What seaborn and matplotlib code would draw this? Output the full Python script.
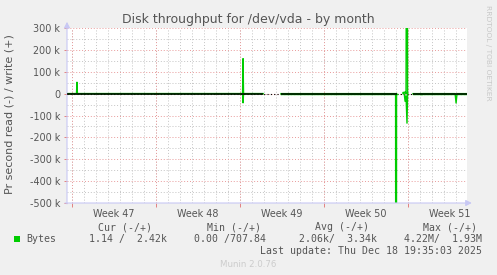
import numpy as np
import pandas as pd
import matplotlib
matplotlib.use("Agg")
import matplotlib.pyplot as plt
import seaborn as sns

# ---------------- data (time in days from left edge of the graph) ----------------
write_seg = [0, 0, 0, 0, 0, 0, 0, 0, 1, 1, 2, 2, 2, 2, 2, 3, 3]
write_t = [0.0, 0.79, 0.83, 0.87, 14.63, 14.67, 14.71, 16.33,
           17.83, 27.50,
           28.00, 28.17, 28.25, 28.33, 28.38,
           28.83, 33.33]
write_v = [0, 0, 52e3, 0, 0, 160e3, 0, 0,
           0, 0,
           5e3, 7e3, 0, 1.93e6, 0,
           0, 0]

read_seg = [0, 0, 0, 0, 0, 1, 1, 1, 1, 2, 2, 2, 2, 2, 2, 3, 3, 3, 3, 3, 3, 3, 3]
read_t = [0.0, 14.63, 14.67, 14.71, 16.33,
          17.83, 27.38, 27.42, 27.46,
          28.00, 28.10, 28.17, 28.25, 28.33, 28.38,
          28.83, 29.54, 29.58, 29.62, 32.34, 32.42, 32.50, 33.33]
read_v = [0, 0, 42e3, 0, 0,
          0, 0, 4.22e6, 0,
          0, 0, 35e3, 10e3, 135e3, 0,
          0, 0, 5e3, 0, 0, 43e3, 0, 0]

week_labels = ["Week 47", "Week 48", "Week 49", "Week 50", "Week 51"]
week_starts = [0.42, 7.42, 14.42, 21.42, 28.42]
x_max = 33.33
y_ticks = [-500e3, -400e3, -300e3, -200e3, -100e3, 0, 100e3, 200e3, 300e3]
y_labels = ["-500 k", "-400 k", "-300 k", "-200 k", "-100 k", "0", "100 k", "200 k", "300 k"]

legend_headers = ["Cur (-/+)", "Min (-/+)", "Avg (-/+)", "Max (-/+)"]
legend_values = ["1.14 /  2.42k", "0.00 /707.84", "2.06k/  3.34k", "4.22M/  1.93M"]

# ---------------- figure ----------------
W, H = 497, 275
fig = plt.figure(figsize=(W / 100, H / 100), dpi=100, facecolor="#f0f0f0")
ax = fig.add_axes([67 / W, 1 - 203 / H, 400 / W, 175 / H])
ax.set_facecolor("white")
ax.set_xlim(0, x_max)
ax.set_ylim(-500e3, 300e3)

grey = "#c4c4c4"
red = "#e89a9a"
dot = (0, (1, 2))
for d in np.arange(week_starts[0], x_max, 1.0):
    ax.axvline(d, color=grey, lw=0.7, ls=dot, zorder=0)
for d in week_starts:
    ax.axvline(d, color=red, lw=0.7, ls=dot, zorder=0.5)
for v in np.arange(-450e3, 300e3, 100e3):
    ax.axhline(v, color=grey, lw=0.7, ls=dot, zorder=0)
for v in y_ticks:
    ax.axhline(v, color=red, lw=0.7, ls=dot, zorder=0.5)

# zero line: dotted through gaps, solid where data exists
ax.axhline(0, color="black", lw=0.8, ls=dot, zorder=1)

df_w = pd.DataFrame({"t": write_t, "v": write_v, "seg": write_seg})
df_r = pd.DataFrame({"t": read_t, "v": [-x for x in read_v], "seg": read_seg})

green = "#00cc00"
sns.lineplot(data=df_w, x="t", y="v", units="seg", estimator=None, color=green,
             lw=1.0, ax=ax, zorder=3, sort=False)
sns.lineplot(data=df_r, x="t", y="v", units="seg", estimator=None, color=green,
             lw=1.0, ax=ax, zorder=3, sort=False)

for s in [0, 1, 3]:
    ts = df_w.loc[df_w.seg == s, "t"]
    ax.plot([ts.min(), ts.max()], [0, 0], color="black", lw=1.1, zorder=4,
            solid_capstyle="butt")

ax.set_xlabel("")
ax.set_ylabel("")
for sp in ax.spines.values():
    sp.set_visible(False)

ax.set_yticks(y_ticks)
ax.set_yticklabels(y_labels)
ax.set_xticks([w + 3.5 for w in week_starts])
ax.set_xticklabels(week_labels)
ax.set_xticks(week_starts, minor=True)
ax.tick_params(axis="x", which="major", length=0, pad=4, labelsize=6.9, labelcolor="#555555")
ax.tick_params(axis="x", which="minor", length=3, color="#e07070", width=0.6)
ax.tick_params(axis="y", which="major", length=2, color="#e07070", width=0.6,
               pad=3, labelsize=6.9, labelcolor="#555555")

# blue axis arrows
axcol = "#c8c8f4"
ax.annotate("", xy=(0, 1.035), xytext=(0, -0.005), xycoords="axes fraction",
            arrowprops=dict(arrowstyle="-|>,head_length=0.35,head_width=0.18",
                            color=axcol, lw=0.8, shrinkA=0, shrinkB=0), annotation_clip=False)
ax.annotate("", xy=(1.012, 0), xytext=(-0.005, 0), xycoords="axes fraction",
            arrowprops=dict(arrowstyle="-|>,head_length=0.35,head_width=0.18",
                            color=axcol, lw=0.8, shrinkA=0, shrinkB=0), annotation_clip=False)

def px(x, y):
    return x / W, 1 - y / H

fig.text(*px(248, 19.5), "Disk throughput for /dev/vda - by month", ha="center", va="center",
         fontsize=9, color="#555555")
fig.text(*px(10, 114), "Pr second read (-) / write (+)", rotation=90, ha="center", va="center",
         fontsize=8.0, color="#555555")
fig.text(*px(488, 5), "RRDTOOL / TOBI OETIKER", rotation=270, ha="center", va="top",
         fontsize=5.4, color="#c8c8c8")

mono = "DejaVu Sans Mono"
fs = 7.15
hdr_x = [98.3, 206.7, 314.7, 422.7]
val_x = [89.3, 194.3, 299.3, 404.3]
for x, t in zip(hdr_x, legend_headers):
    fig.text(*px(x, 227), t, family=mono, fontsize=fs, color="#555555", ha="left", va="center")
for x, t in zip(val_x, legend_values):
    fig.text(*px(x, 239), t, family=mono, fontsize=fs, color="#555555", ha="left", va="center")
fig.text(*px(26.3, 239), "Bytes", family=mono, fontsize=fs, color="#555555", ha="left", va="center")
fig.patches.append(plt.Rectangle(px(14, 242), 6 / W, 6 / H, transform=fig.transFigure,
                                 facecolor=green, edgecolor="none"))
fig.text(*px(482.5, 251), "Last update: Thu Dec 18 19:35:03 2025", family=mono, fontsize=fs,
         color="#555555", ha="right", va="center")
fig.text(*px(248, 264.5), "Munin 2.0.76", fontsize=6.2, color="#cccccc", ha="center", va="center")

fig.savefig("out.png", dpi=100, facecolor=fig.get_facecolor())
